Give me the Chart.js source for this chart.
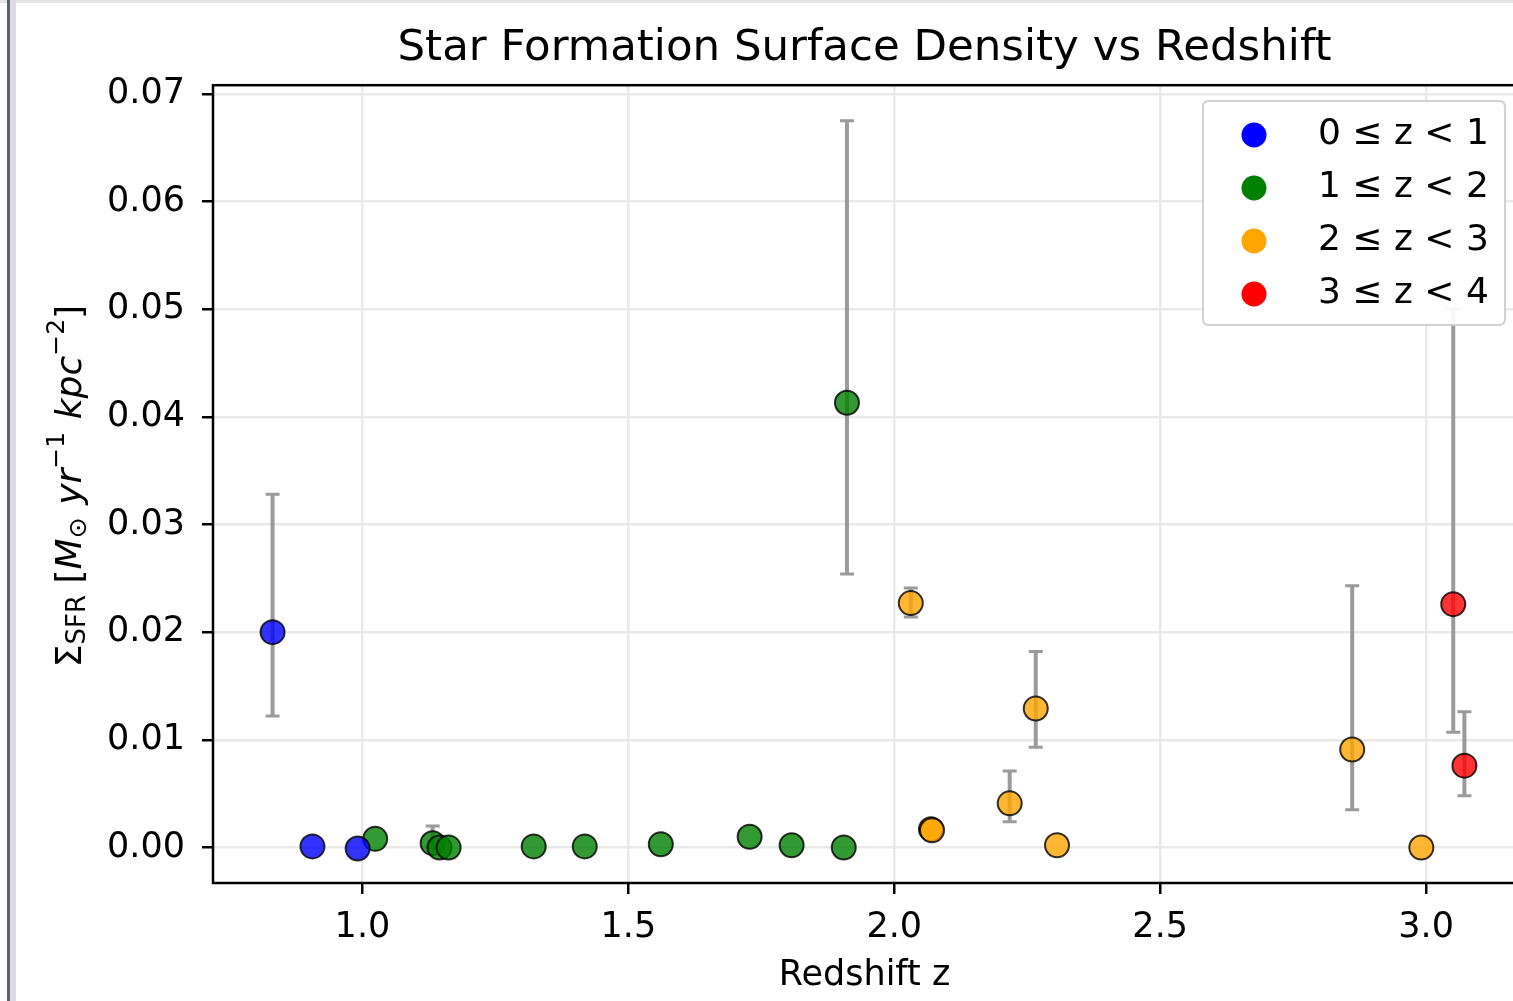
<!DOCTYPE html>
<html><head><meta charset="utf-8">
<script src="https://cdn.jsdelivr.net/npm/chart.js@4.4.1/dist/chart.umd.min.js"></script>
<style>
html,body{margin:0;padding:0;background:#fff;overflow:hidden;width:1513px;height:1001px;}
#wrap{position:absolute;left:0;top:0;width:1530px;height:1001px;}
#tb{position:absolute;left:0;top:0;width:1513px;height:3px;background:#e4e4e6;}
#lb{position:absolute;left:7px;top:0;width:3px;height:1001px;background:#5b6178;}
#lb2{position:absolute;left:10px;top:0;width:6px;height:1001px;background:#dcdce2;}
</style></head><body>
<div id="wrap"><canvas id="c" width="1530" height="1001"></canvas></div>
<div id="tb"></div><div id="lb2"></div><div id="lb"></div>
<script>
// ---- data ----
const groupLabels = ['0 \u2264 z < 1', '1 \u2264 z < 2', '2 \u2264 z < 3', '3 \u2264 z < 4'];

const zBlue  = [0.831, 0.906, 0.991];
const sBlue  = [0.0200, 0.0001, -0.0001];
const loBlue = [0.0122, null, null];
const hiBlue = [0.0328, null, null];

const zGreen  = [1.024, 1.132, 1.145, 1.162, 1.322, 1.418, 1.561, 1.728, 1.807, 1.905, 1.911];
const sGreen  = [0.0008, 0.0004, 0.0000, 0.0000, 0.0001, 0.0001, 0.0003, 0.0010, 0.0002, 0.0000, 0.0413];
const loGreen = [null, 0.0000, null, null, null, null, null, null, null, null, 0.0254];
const hiGreen = [null, 0.0020, null, null, null, null, null, null, null, null, 0.0675];

const zOrange  = [2.031, 2.069, 2.071, 2.217, 2.266, 2.306, 2.861, 2.991];
const sOrange  = [0.0227, 0.0017, 0.0016, 0.0041, 0.0129, 0.0002, 0.0091, 0.0000];
const loOrange = [0.0214, null, null, 0.0024, 0.0093, null, 0.0035, null];
const hiOrange = [0.0241, null, null, 0.0071, 0.0182, null, 0.0243, null];

const zRed  = [3.051, 3.072];
const sRed  = [0.0226, 0.0076];
const loRed = [0.0107, 0.0048];
const hiRed = [0.0500, 0.0126];

const xTickValues = [1.0, 1.5, 2.0, 2.5, 3.0];
const xTickLabels = ['1.0', '1.5', '2.0', '2.5', '3.0'];
const yTickValues = [0.00, 0.01, 0.02, 0.03, 0.04, 0.05, 0.06, 0.07];
const yTickLabels = ['0.00', '0.01', '0.02', '0.03', '0.04', '0.05', '0.06', '0.07'];

const fillColors = ['rgba(0,0,255,0.8)', 'rgba(0,128,0,0.8)', 'rgba(255,165,0,0.8)', 'rgba(255,0,0,0.8)'];
const legendColors = ['#0000ff', '#008000', '#ffa500', '#ff0000'];

// ---- build ----
const FONT = '"DejaVu Sans", sans-serif';
function pts(z, s, lo, hi) { return z.map((v, i) => ({x: v, y: s[i], lo: lo[i], hi: hi[i]})); }
const groups = [
  pts(zBlue, sBlue, loBlue, hiBlue),
  pts(zGreen, sGreen, loGreen, hiGreen),
  pts(zOrange, sOrange, loOrange, hiOrange),
  pts(zRed, sRed, loRed, hiRed)
];

const errorBars = {
  id: 'errorBars',
  beforeDatasetsDraw(chart) {
    const {ctx, chartArea: a, scales: {x, y}} = chart;
    ctx.save();
    ctx.beginPath(); ctx.rect(a.left, a.top, a.right - a.left, a.bottom - a.top); ctx.clip();
    ctx.strokeStyle = '#9b9b9b';
    chart.data.datasets.forEach(ds => {
      ds.data.forEach(p => {
        if (p.lo == null || p.hi == null) return;
        const px = x.getPixelForValue(p.x);
        const y0 = y.getPixelForValue(p.lo), y1 = y.getPixelForValue(p.hi);
        ctx.lineWidth = 4;
        ctx.beginPath(); ctx.moveTo(px, y0); ctx.lineTo(px, y1); ctx.stroke();
        ctx.lineWidth = 3;
        ctx.beginPath();
        ctx.moveTo(px - 7, y0); ctx.lineTo(px + 7, y0);
        ctx.moveTo(px - 7, y1); ctx.lineTo(px + 7, y1);
        ctx.stroke();
      });
    });
    ctx.restore();
  }
};

const frame = {
  id: 'frame',
  afterDraw(chart) {
    const {ctx, chartArea: a} = chart;
    ctx.save();
    ctx.strokeStyle = '#000'; ctx.lineWidth = 2.5;
    ctx.strokeRect(a.left, a.top, a.right - a.left, a.bottom - a.top);
    // legend
    const lx = 1203, ly = 101, lw = 302, lh = 224, r = 6;
    ctx.beginPath();
    ctx.moveTo(lx + r, ly); ctx.lineTo(lx + lw - r, ly); ctx.quadraticCurveTo(lx + lw, ly, lx + lw, ly + r);
    ctx.lineTo(lx + lw, ly + lh - r); ctx.quadraticCurveTo(lx + lw, ly + lh, lx + lw - r, ly + lh);
    ctx.lineTo(lx + r, ly + lh); ctx.quadraticCurveTo(lx, ly + lh, lx, ly + lh - r);
    ctx.lineTo(lx, ly + r); ctx.quadraticCurveTo(lx, ly, lx + r, ly);
    ctx.closePath();
    ctx.fillStyle = 'rgba(255,255,255,0.92)'; ctx.fill();
    ctx.strokeStyle = 'rgba(204,204,204,0.9)'; ctx.lineWidth = 2; ctx.stroke();
    ctx.font = '36px ' + FONT; ctx.textBaseline = 'middle'; ctx.textAlign = 'left'; ctx.fillStyle = '#000';
    chart.data.datasets.forEach((ds, i) => {
      const cy = 135 + i * 53;
      ctx.beginPath(); ctx.arc(1254, cy, 12.5, 0, Math.PI * 2);
      ctx.fillStyle = legendColors[i]; ctx.fill();
      ctx.fillStyle = '#000';
      ctx.fillText(ds.label, 1318, cy);
    });
    // y-axis label with sub/superscripts
    const segs = [
      {t: '\u03A3', f: '36px', dy: 0},
      {t: 'SFR', f: '26px', dy: 4},
      {t: ' [', f: '36px', dy: 0},
      {t: 'M', f: 'italic 36px', dy: 0},
      {t: '\u2299', f: '25px', dy: 5},
      {t: '  ', f: '36px', dy: 0},
      {t: 'yr', f: 'italic 36px', dy: 0},
      {t: '\u22121', f: '25px', dy: -17},
      {t: '  ', f: '36px', dy: 0},
      {t: 'kpc', f: 'italic 36px', dy: 0},
      {t: '\u22122', f: '25px', dy: -17},
      {t: ']', f: '36px', dy: 0}
    ];
    let total = 0;
    segs.forEach(s => { ctx.font = s.f + ' ' + FONT; s.w = ctx.measureText(s.t).width * (s.t.trim() === '' ? 0.55 : 1); total += s.w; });
    ctx.translate(81, 486); ctx.rotate(-Math.PI / 2);
    ctx.textBaseline = 'alphabetic'; ctx.textAlign = 'left'; ctx.fillStyle = '#000';
    let cx = -total / 2;
    segs.forEach(s => { ctx.font = s.f + ' ' + FONT; ctx.fillText(s.t, cx, s.dy); cx += s.w; });
    ctx.restore();
  }
};

const tickFont = {family: FONT, size: 35};
new Chart(document.getElementById('c'), {
  type: 'scatter',
  data: {
    datasets: groups.map((g, i) => ({
      label: groupLabels[i],
      data: g,
      backgroundColor: fillColors[i],
      borderColor: 'rgba(0,0,0,0.8)',
      borderWidth: 2,
      pointRadius: 12,
      pointHoverRadius: 12
    }))
  },
  options: {
    responsive: false,
    animation: false,
    devicePixelRatio: 1,
    layout: {padding: {left: 0, right: 3, top: 0, bottom: 0}},
    plugins: {
      legend: {display: false},
      tooltip: {enabled: false},
      title: {
        display: true, text: 'Star Formation Surface Density vs Redshift', fullSize: false,
        font: {family: FONT, size: 43.5, weight: 'normal'}, color: '#000',
        padding: {top: 23, bottom: 10}
      }
    },
    scales: {
      x: {
        type: 'linear', min: 0.719, max: 3.169,
        afterBuildTicks: s => { s.ticks = xTickValues.map(v => ({value: v})); },
        afterFit: s => { s.height = 118; },
        ticks: {callback: (v, i) => xTickLabels[i], font: tickFont, color: '#000', padding: 13, maxRotation: 0, autoSkip: false},
        grid: {color: '#e9e9e9', lineWidth: 2.5, tickLength: 11, tickColor: '#000', tickWidth: 2.5},
        border: {display: false},
        title: {display: true, text: 'Redshift z', font: tickFont, color: '#000', padding: {top: 0, bottom: 4}}
      },
      y: {
        type: 'linear', min: -0.0033, max: 0.0708,
        afterBuildTicks: s => { s.ticks = yTickValues.map(v => ({value: v})); },
        afterFit: s => { s.width = 213; },
        ticks: {callback: (v, i) => yTickLabels[i], font: tickFont, color: '#000', padding: 17, autoSkip: false},
        grid: {color: '#e9e9e9', lineWidth: 2.5, tickLength: 11, tickColor: '#000', tickWidth: 2.5},
        border: {display: false}
      }
    }
  },
  plugins: [errorBars, frame]
});
</script>
</body></html>
